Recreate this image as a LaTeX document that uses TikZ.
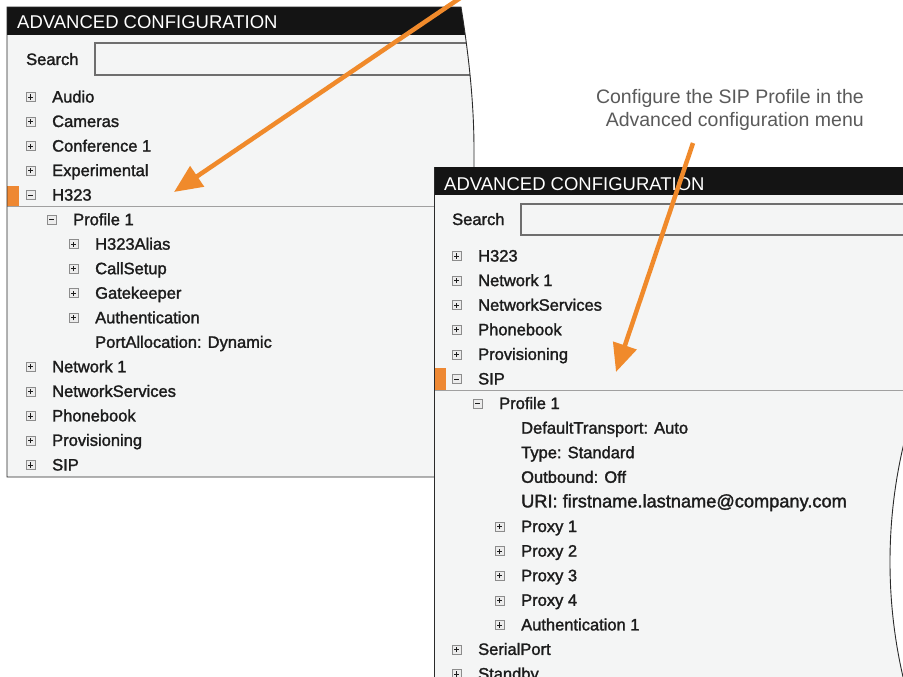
\documentclass[tikz,border=0pt]{standalone}
\usepackage{fontspec}
\setmainfont{Liberation Sans}
\newfontfamily\uifont[FakeBold=1.6]{Liberation Sans}
\usepackage{tikz}
\usetikzlibrary{positioning}
\usetikzlibrary{arrows.meta}

\definecolor{ink}{HTML}{1C1C1C}
\definecolor{panelbg}{HTML}{F4F5F5}
\definecolor{barbg}{HTML}{141414}
\definecolor{accent}{HTML}{F08A2B}
\definecolor{marker}{HTML}{EE8833}
\definecolor{sepgray}{HTML}{A0A0A0}
\definecolor{boxgray}{HTML}{6E6E6E}
\definecolor{framegray}{HTML}{2A2A2A}
\definecolor{icongray}{HTML}{8C8C8C}
\definecolor{iconfill}{HTML}{ECECEC}
\definecolor{notegray}{HTML}{5A5A5A}

% outline of the left (older) screenshot
\newcommand\leftshape{(7,7) -- (461,7) .. controls (468,50) and (474,100) .. (474,150) -- (474,477) -- (7,477) -- cycle}

\begin{document}
\begin{tikzpicture}[
  x=1pt, y=-1pt,
  row/.style={anchor=west, inner sep=0pt, text height=11pt, text depth=0pt,
    text=ink, font=\uifont\fontsize{16.5}{18}\selectfont},
  bartitle/.style={anchor=west, inner sep=0pt, text height=13pt, text depth=0pt,
    text=white, font=\fontsize{18.5}{20}\selectfont},
  notetext/.style={anchor=base east, inner sep=0pt, text=notegray,
    font=\fontsize{19.5}{23}\selectfont},
  plusbox/.style={draw=icongray, fill=iconfill, line width=0.6pt, minimum size=9pt,
    inner sep=0pt,
    path picture={
      \draw[ink, line width=0.8pt] ([xshift=-2.6pt]path picture bounding box.center)
        -- ([xshift=2.6pt]path picture bounding box.center);
      \draw[ink, line width=0.8pt] ([yshift=-2.6pt]path picture bounding box.center)
        -- ([yshift=2.6pt]path picture bounding box.center);}},
  minusbox/.style={draw=icongray, fill=iconfill, line width=0.6pt, minimum size=9pt,
    inner sep=0pt,
    path picture={
      \draw[ink, line width=0.8pt] ([xshift=-2.6pt]path picture bounding box.center)
        -- ([xshift=2.6pt]path picture bounding box.center);}},
  pointer/.style={draw=accent, line width=4.5pt, -{Triangle[length=28pt,width=24pt]}},
  sepline/.style={draw=sepgray, line width=1.6pt},
  searchbox/.style={draw=boxgray, line width=1.2pt},
  frameline/.style={draw=framegray, line width=0.9pt}
]
\useasboundingbox (0,0) rectangle (903,677);
\clip (0,0) rectangle (903,677);
\fill[white] (0,0) rectangle (903,677);

% left screenshot
\fill[panelbg] \leftshape;
\begin{scope}
  \clip \leftshape;
  \fill[barbg] (7,7) rectangle (600,35);
  \draw[searchbox] (95,43) rectangle (600,75);
  \fill[marker] (7,186) rectangle (19,206);
  \draw[sepline] (7,206.5) -- (600,206.5);
\end{scope}
\draw[frameline] \leftshape;

\node[bartitle] (ltitle) at (17,22) {ADVANCED CONFIGURATION};
\node[row] (lsearch) at (26,59.5) {Search};

\node[row] (laudio) at (52,97) {Audio};
\node[plusbox, left=16.5pt of laudio] (paudio) {};
\node[row] (lcam) at (52,121.5) {Cameras};
\node[plusbox, left=16.5pt of lcam] (pcam) {};
\node[row] (lconf) at (52,146.1) {Conference 1};
\node[plusbox, left=16.5pt of lconf] (pconf) {};
\node[row] (lexp) at (52,170.6) {Experimental};
\node[plusbox, left=16.5pt of lexp] (pexp) {};
\node[row] (lhtt) at (52,195.1) {H323};
\node[minusbox, left=16.5pt of lhtt] (phtt) {};
\node[row] (lprof) at (73,219.7) {Profile 1};
\node[minusbox, left=16.5pt of lprof] (pprof) {};
\node[row] (lalias) at (95,244.2) {H323Alias};
\node[plusbox, left=16.5pt of lalias] (palias) {};
\node[row] (lcall) at (95,268.7) {CallSetup};
\node[plusbox, left=16.5pt of lcall] (pcall) {};
\node[row] (lgate) at (95,293.2) {Gatekeeper};
\node[plusbox, left=16.5pt of lgate] (pgate) {};
\node[row] (lauth) at (95,317.8) {Authentication};
\node[plusbox, left=16.5pt of lauth] (pauth) {};
\node[row] (lport) at (95,342.3) {PortAllocation: Dynamic};
\node[row] (lnet) at (52,366.8) {Network 1};
\node[plusbox, left=16.5pt of lnet] (pnet) {};
\node[row] (lsvc) at (52,391.4) {NetworkServices};
\node[plusbox, left=16.5pt of lsvc] (psvc) {};
\node[row] (lbook) at (52,415.9) {Phonebook};
\node[plusbox, left=16.5pt of lbook] (pbook) {};
\node[row] (lprov) at (52,440.4) {Provisioning};
\node[plusbox, left=16.5pt of lprov] (pprov) {};
\node[row] (lsip) at (52,465) {SIP};
\node[plusbox, left=16.5pt of lsip] (psip) {};

% arrow into the H323 entry
\coordinate (htail) at (472,-10);
\coordinate (htip) at (174,192);
\draw[pointer] (htail) -- (htip);

% right screenshot
\fill[panelbg] (434,167) rectangle (903,677);
\fill[barbg] (434,167) rectangle (903,195);
\draw[searchbox] (521,204) rectangle (915,235);
\fill[marker] (434,368) rectangle (446,390);
\draw[sepline] (434,390.5) -- (903,390.5);
\draw[frameline] (434,167) -- (434,677);
\draw[frameline, fill=white] (1399,562) circle (509pt);

\node[bartitle] (rtitle) at (444,183.5) {ADVANCED CONFIGURATION};
\node[row] (rsearch) at (452,219.5) {Search};

\node[row] (rhtt) at (478,256) {H323};
\node[plusbox, left=16.5pt of rhtt] (qhtt) {};
\node[row] (rnet) at (478,280.6) {Network 1};
\node[plusbox, left=16.5pt of rnet] (qnet) {};
\node[row] (rsvc) at (478,305.2) {NetworkServices};
\node[plusbox, left=16.5pt of rsvc] (qsvc) {};
\node[row] (rbook) at (478,329.8) {Phonebook};
\node[plusbox, left=16.5pt of rbook] (qbook) {};
\node[row] (rprov) at (478,354.4) {Provisioning};
\node[plusbox, left=16.5pt of rprov] (qprov) {};
\node[row] (rsip) at (478,379) {SIP};
\node[minusbox, left=16.5pt of rsip] (qsip) {};
\node[row] (rprof) at (499,403.5) {Profile 1};
\node[minusbox, left=16.5pt of rprof] (qprof) {};
\node[row] (rtrans) at (521,428.1) {DefaultTransport: Auto};
\node[row] (rtype) at (521,452.7) {Type: Standard};
\node[row] (rout) at (521,477.3) {Outbound: Off};
\node[row, font=\uifont\fontsize{18.2}{20}\selectfont] (ruri) at (521,501.9) {URI: firstname.lastname@company.com};
\node[row] (rpxa) at (521,526.5) {Proxy 1};
\node[plusbox, left=16.5pt of rpxa] (qpxa) {};
\node[row] (rpxb) at (521,551.1) {Proxy 2};
\node[plusbox, left=16.5pt of rpxb] (qpxb) {};
\node[row] (rpxc) at (521,575.7) {Proxy 3};
\node[plusbox, left=16.5pt of rpxc] (qpxc) {};
\node[row] (rpxd) at (521,600.3) {Proxy 4};
\node[plusbox, left=16.5pt of rpxd] (qpxd) {};
\node[row] (rauth) at (521,624.9) {Authentication 1};
\node[plusbox, left=16.5pt of rauth] (qauth) {};
\node[row] (rserial) at (478,649.4) {SerialPort};
\node[plusbox, left=16.5pt of rserial] (qserial) {};
\node[row] (rstandby) at (478,674) {Standby};
\node[plusbox, left=16.5pt of rstandby] (qstandby) {};

% note and arrow into the SIP entry
\node[notetext] (cfga) at (864,103) {Configure the SIP Profile in the};
\node[notetext] (cfgb) at (864,126.5) {Advanced configuration menu};
\coordinate (stail) at (693,143);
\coordinate (stip) at (616,372);
\draw[pointer] (stail) -- (stip);

\end{tikzpicture}
\end{document}
